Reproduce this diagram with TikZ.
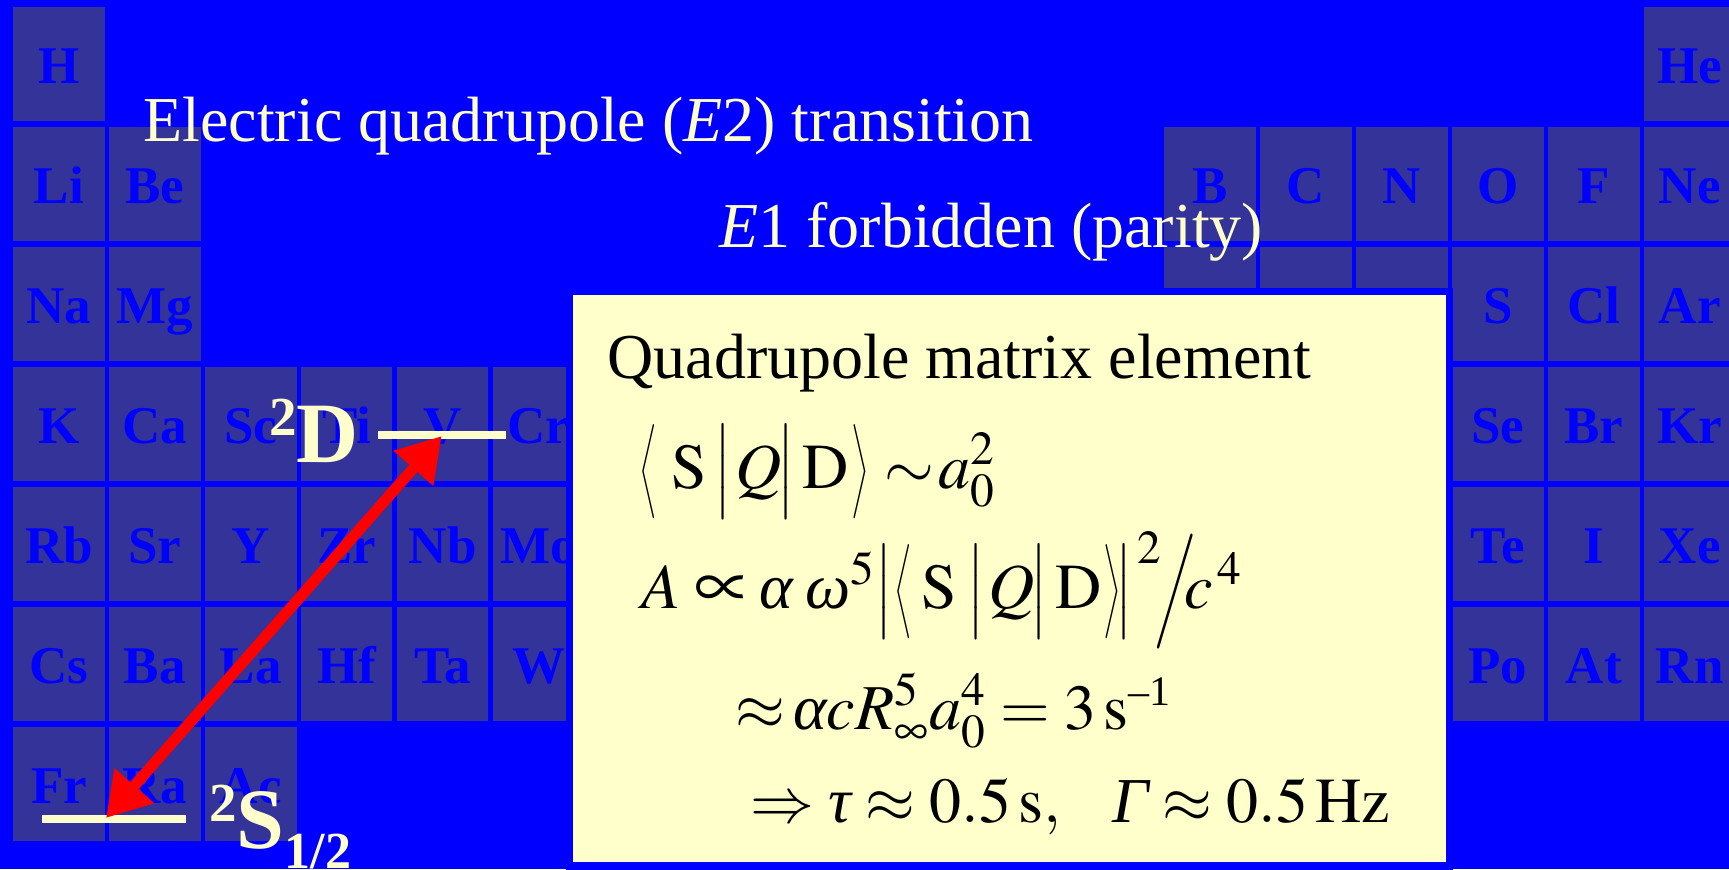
\documentclass[tikz,border=0pt]{standalone}
\usepackage{amsmath}
\usepackage{graphicx}
\usepackage{mathptmx}
\usepackage[no-math]{fontspec}
\setmainfont{Liberation Serif}
\usetikzlibrary{arrows.meta}
\definecolor{bgblue}{HTML}{0000FF}
\definecolor{cellc}{HTML}{333399}
\definecolor{creamc}{HTML}{FFFFCC}
\thickmuskip=4mu
\newcommand{\gk}[1]{\mbox{\itshape #1}}
\newcommand{\qlangle}{\mathopen{\vcenter{\hbox{\scalebox{0.45}[0.82]{$\Big\langle$}}}}}
\newcommand{\qrangle}{\mathclose{\vcenter{\hbox{\scalebox{0.45}[0.82]{$\Big\rangle$}}}}}
\newcommand{\qbar}{\mathord{\vcenter{\hbox{\scalebox{0.8}[0.82]{$\Big|$}}}}}
\newcommand{\qslash}{\mathord{\vcenter{\hbox{\scalebox{0.8}[1.0]{$\Big/$}}}}}
\newcommand{\qprop}{\mathrel{\vcenter{\hbox{\scalebox{1.2}{$\propto$}}}}}
\newcommand{\hs}[1]{\hspace{#1pt}}
\tikzset{
  cell/.style={fill=cellc},
  ellabel/.style={text=bgblue, font=\fontsize{26.5}{26.5}\selectfont\bfseries, anchor=base, inner sep=0pt},
  creamtext/.style={text=creamc, font=\fontsize{32}{36}\selectfont, anchor=base west, inner sep=0pt},
  boxtext/.style={text=black, font=\fontsize{32}{36}\selectfont, anchor=base west, inner sep=0pt},
  level/.style={draw=creamc, line width=4pt},
  lvllabel/.style={text=creamc, font=\fontsize{43}{43}\selectfont\bfseries, anchor=base west, inner sep=0pt},
  transition/.style={draw=red, line width=5.5pt, {Triangle[length=21.5pt,width=25pt]}-{Triangle[length=21.5pt,width=25pt]}},
}
\begin{document}
\begin{tikzpicture}[x=0.5pt,y=-0.5pt]
\useasboundingbox (0,0) rectangle (1729,869);
\clip (0,0) rectangle (1729,869);
\fill[bgblue] (0,0) rectangle (1729,869);
% periodic table cells with labels
\foreach \c/\r/\t in {0/0/H, 17/0/He,
  0/1/Li, 1/1/Be, 12/1/B, 13/1/C, 14/1/N, 15/1/O, 16/1/F, 17/1/Ne,
  0/2/Na, 1/2/Mg, 15/2/S, 16/2/Cl, 17/2/Ar,
  0/3/K, 1/3/Ca, 2/3/Sc, 3/3/Ti, 4/3/V, 5/3/Cr, 15/3/Se, 16/3/Br, 17/3/Kr,
  0/4/Rb, 1/4/Sr, 2/4/Y, 3/4/Zr, 4/4/Nb, 5/4/Mo, 15/4/Te, 16/4/I, 17/4/Xe,
  0/5/Cs, 1/5/Ba, 2/5/La, 3/5/Hf, 4/5/Ta, 5/5/W, 15/5/Po, 16/5/At, 17/5/Rn,
  0/6/Fr, 1/6/Ra, 2/6/Ac}{
  \fill[cell] ({13.2+95.93*\c},{6.6+120*\r}) rectangle ++(91.5,114.7);
  \node[ellabel] (el-\c-\r) at ({13.2+95.93*\c+45.75},{6.6+120*\r+77.35}) {\t};
}
% cells partly hidden by the box
\foreach \c in {12,13,14}{
  \fill[cell] ({13.2+95.93*\c},{6.6+240}) rectangle ++(91.5,114.7);
}
% titles
\node[creamtext] (title) at (143,141) {Electric quadrupole (\textit{E}2) transition};
\node[creamtext] (e1) at (719,247) {\textit{E}1 forbidden (parity)};
% box
\fill[bgblue] (566,288) rectangle (1453,880);
\fill[creamc] (573,295) rectangle (1446,862);
\node[boxtext] (qme) at (607,378) {Quadrupole matrix element};
\node[boxtext] (eq1) at (639,488) {$\qlangle\hs{7}\mathrm{S}\hs{4}\qbar\hs{2}Q\hs{-2}\qbar\hs{4}\mathrm{D}\hs{1}\qrangle\hs{8}{\sim}\hs{2}a_0^2$};
\node[boxtext] (eq2) at (641,608) {$A\qprop\hs{-2}\gk{α}\hs{6}\gk{ω}^5\qbar\hs{1}\qlangle\hs{5}\mathrm{S}\hs{5}\qbar\hs{2}Q\hs{-2}\qbar\hs{4}\mathrm{D}\hs{1}\qrangle\hs{-3}\qbar^{\,2}\hs{-4}\qslash\hs{-6}c^{\,4}$};
\node[boxtext] (eq3) at (735,729) {$\approx\hs{-3}\gk{α}cR_\infty^5a_0^4=3\,\mathrm{s}^{\mbox{\fontsize{21}{21}\selectfont –1}}$};
\node[boxtext] (eq4) at (750,822) {$\Rightarrow\gk{τ}\approx0.5\,\mathrm{s},\hs{22}\gk{Γ}\approx0.5\,\mathrm{Hz}$};
% energy levels
\coordinate (dL) at (378,435);
\coordinate (dR) at (506,435);
\coordinate (sL) at (42,819);
\coordinate (sR) at (186,819);
\draw[level] (dL) -- (dR);
\draw[level] (sL) -- (sR);
\node[lvllabel] (dlab) at (269,462) {\raisebox{13.5pt}{\fontsize{27.5}{27.5}\selectfont 2}D};
\node[lvllabel] (slab) at (209,848) {\raisebox{13.5pt}{\fontsize{27.5}{27.5}\selectfont 2}S\raisebox{-10pt}{\fontsize{26}{26}\selectfont 1/2}};
% transition arrow
\coordinate (dtip) at (441.7,436);
\coordinate (stip) at (106,818);
\draw[transition] (stip) -- (dtip);
\end{tikzpicture}
\end{document}
